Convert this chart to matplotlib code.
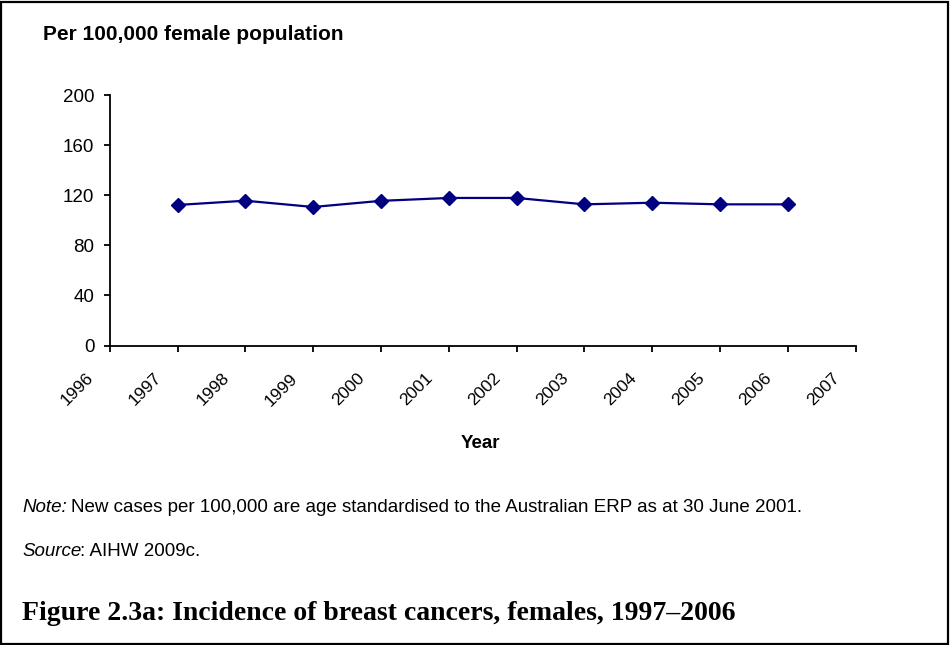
import matplotlib
matplotlib.use("Agg")
import matplotlib.pyplot as plt
from matplotlib.patches import Rectangle

years = [1997, 1998, 1999, 2000, 2001, 2002, 2003, 2004, 2005, 2006]
rates = [112.2, 115.6, 110.6, 115.5, 117.8, 117.8, 112.7, 114.0, 112.7, 112.7]
xtick_years = list(range(1996, 2008))
yticks = [0, 40, 80, 120, 160, 200]

plt.rcParams['font.family'] = ['Liberation Sans', 'DejaVu Sans']

W, H = 950, 645
fig = plt.figure(figsize=(W / 100, H / 100), dpi=100)
fig.patch.set_facecolor('white')

ax = fig.add_axes([109.7 / W, 1 - 345.5 / H, (855.8 - 109.7) / W, (345.5 - 95) / H])
ax.plot(years, rates, color='#000080', lw=1.6, marker='D', markersize=7,
        markerfacecolor='#000080', markeredgecolor='#000080')
ax.set_xlim(1996, 2007)
ax.set_ylim(0, 200)
ax.set_xticks(xtick_years)
ax.set_xticklabels([])
for yr in xtick_years:
    ax.annotate(str(yr), xy=(yr, 0), xycoords=('data', 'axes fraction'),
                xytext=(-9.4, -18), textcoords='offset points',
                rotation=45, ha='right', va='top', fontsize=12.5)
ax.set_yticks(yticks)
ax.set_yticklabels([str(v) for v in yticks], fontsize=13.5)
for s in ['top', 'right']:
    ax.spines[s].set_visible(False)
for s in ['left', 'bottom']:
    ax.spines[s].set_linewidth(1.3)
ax.tick_params(axis='both', direction='out', length=4.5, width=1.3, colors='black')
ax.tick_params(axis='y', pad=6.5)

fig.text(43 / W, 1 - 34 / H, 'Per 100,000 female population', fontsize=15,
         fontweight='bold', va='center', ha='left')
fig.text(480 / W, 1 - 444 / H, 'Year', fontsize=13.5, fontweight='bold',
         va='center', ha='center')

fs_note = 13.5
t1 = fig.text(22 / W, 1 - 508 / H, 'Note:', fontsize=fs_note, style='italic',
              va='center', ha='left')
fig.canvas.draw()
bb = t1.get_window_extent()
fig.text((bb.x1 + 4) / W, 1 - 508 / H,
         'New cases per 100,000 are age standardised to the Australian ERP as at 30 June 2001.',
         fontsize=fs_note, va='center', ha='left')

t2 = fig.text(22 / W, 1 - 552 / H, 'Source', fontsize=fs_note, style='italic',
              va='center', ha='left')
fig.canvas.draw()
bb2 = t2.get_window_extent()
fig.text((bb2.x1 - 1) / W, 1 - 552 / H, ': AIHW 2009c.', fontsize=fs_note,
         va='center', ha='left')

fig.text(22 / W, 1 - 613 / H, 'Figure 2.3a: Incidence of breast cancers, females, 1997\u20132006',
         fontsize=20, fontweight='bold', family=['Liberation Serif', 'DejaVu Serif'],
         va='center', ha='left')

fig.add_artist(Rectangle((1 / W, 1 / H), (W - 3) / W, (H - 3) / H, transform=fig.transFigure,
                         fill=False, edgecolor='black', linewidth=1.6))

fig.savefig('out.png', dpi=100, facecolor='white')
